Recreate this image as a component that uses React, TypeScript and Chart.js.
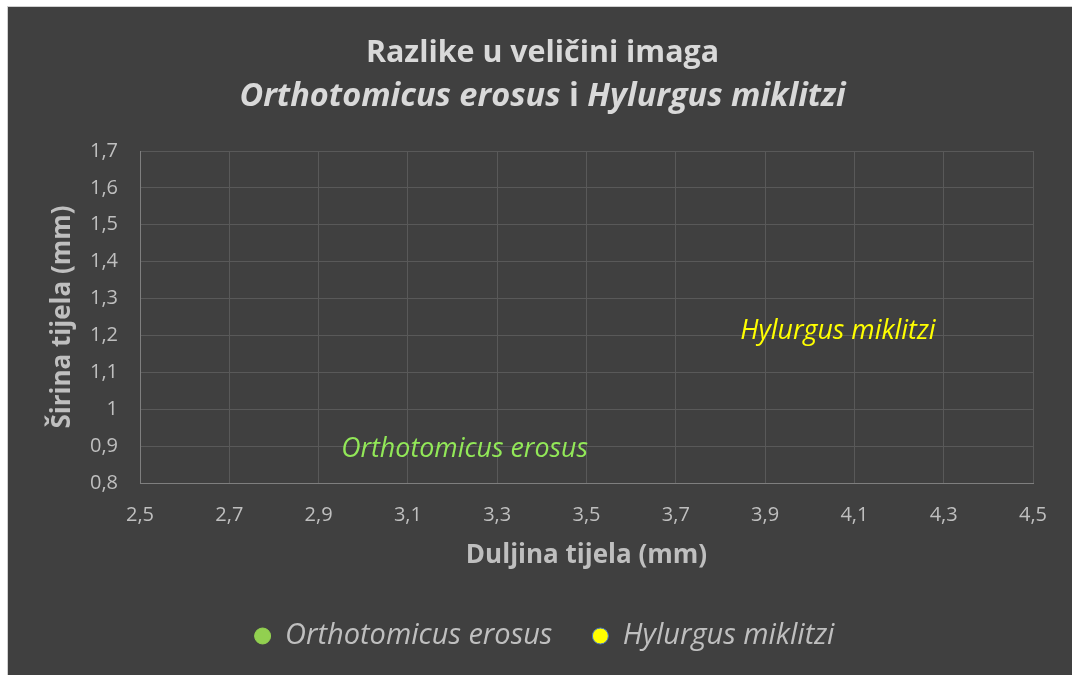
import React, { useEffect, useRef } from "react";
import { Chart, registerables } from "chart.js";

Chart.register(...registerables);

const seriesNames = ["Orthotomicus erosus", "Hylurgus miklitzi"];
const lengthValues = [3.227, 4.063];
const widthValues = [0.89, 1.212];
const xTicks = [2.5, 2.7, 2.9, 3.1, 3.3, 3.5, 3.7, 3.9, 4.1, 4.3, 4.5];
const yTicks = [0.8, 0.9, 1.0, 1.1, 1.2, 1.3, 1.4, 1.5, 1.6, 1.7];
const titleLine1 = "Razlike u veličini imaga";
const titleLine2 = ["Orthotomicus erosus", " i ", "Hylurgus miklitzi"];
const xTitle = "Duljina tijela (mm)";
const yTitle = "Širina tijela (mm)";

const FONT = "'Open Sans', sans-serif";
const markerColors = ["#92D050", "#FFFF00"];
const markerBorders = ["#92D050", "#4472C4"];
const labelColors = ["#92E858", "#FFFF00"];

const fmt = (v: number) => String(Number(v.toFixed(1))).replace(".", ",");

const titlePlugin = {
  id: "customTitle",
  afterDraw(chart: any) {
    const ctx = chart.ctx;
    ctx.save();
    ctx.fillStyle = "#d9d9d9";
    ctx.textBaseline = "alphabetic";
    const cx = 534.5;
    ctx.font = `bold 30.4px ${FONT}`;
    ctx.textAlign = "center";
    ctx.fillText(titleLine1, cx, 55);
    const fonts = [`italic bold 32.5px ${FONT}`, `bold 32.5px ${FONT}`, `italic bold 32.5px ${FONT}`];
    const widths = titleLine2.map((t, i) => {
      ctx.font = fonts[i];
      return ctx.measureText(t).width;
    });
    const total = widths.reduce((a, b) => a + b, 0);
    let x = cx - total / 2;
    ctx.textAlign = "left";
    titleLine2.forEach((t, i) => {
      ctx.font = fonts[i];
      ctx.fillText(t, x, 99);
      x += widths[i];
    });
    ctx.restore();
  },
};

const labelPlugin = {
  id: "pointLabels",
  afterLayout(chart: any) {
    if (chart.legend) {
      chart.legend.left += 24;
      chart.legend.right += 24;
    }
  },
  afterDatasetsDraw(chart: any) {
    const ctx = chart.ctx;
    ctx.save();
    ctx.font = `italic 26.8px ${FONT}`;
    ctx.textAlign = "center";
    ctx.textBaseline = "middle";
    chart.data.datasets.forEach((ds: any, i: number) => {
      const meta = chart.getDatasetMeta(i);
      meta.data.forEach((pt: any) => {
        ctx.fillStyle = labelColors[i];
        ctx.fillText(ds.label, pt.x, pt.y);
      });
    });
    ctx.restore();
  },
};

export default function App() {
  const ref = useRef<HTMLCanvasElement>(null);
  useEffect(() => {
    if (!ref.current) return;
    const chart = new Chart(ref.current, {
      type: "scatter",
      data: {
        datasets: seriesNames.map((name, i) => ({
          label: name,
          data: [{ x: lengthValues[i], y: widthValues[i] }],
          backgroundColor: markerColors[i],
          borderColor: markerBorders[i],
          borderWidth: 1,
          pointRadius: 0,
          pointHoverRadius: 0,
        })),
      },
      options: {
        animation: false,
        responsive: false,
        layout: { padding: { top: 144, right: 39, bottom: 14.5, left: 0 } },
        plugins: {
          title: { display: false },
          tooltip: { enabled: false },
          legend: {
            position: "bottom",
            labels: {
              usePointStyle: true,
              pointStyle: "circle",
              boxHeight: 11.3,
              pointStyleWidth: 16,
              padding: 40,
              color: "#bfbfbf",
              font: { family: FONT, size: 29, style: "italic" },
            },
          },
        },
        scales: {
          x: {
            type: "linear",
            min: 2.5,
            max: 4.5,
            afterBuildTicks: (s: any) => {
              s.ticks = xTicks.map((v) => ({ value: v }));
            },
            afterFit: (s: any) => {
              s.height = 98.5;
            },
            grid: { color: "#595959", drawTicks: false },
            border: { color: "#7f7f7f", width: 1 },
            ticks: {
              padding: 20,
              color: "#bfbfbf",
              font: { family: FONT, size: 20 },
              maxRotation: 0,
              callback: (v: any) => fmt(Number(v)),
            },
            title: {
              display: true,
              text: xTitle,
              color: "#bfbfbf",
              font: { family: FONT, size: 26, weight: "bold" },
              padding: { top: 0, bottom: 10 },
            },
          },
          y: {
            type: "linear",
            min: 0.8,
            max: 1.7,
            afterBuildTicks: (s: any) => {
              s.ticks = yTicks.map((v) => ({ value: v }));
            },
            afterFit: (s: any) => {
              s.width = 132;
            },
            grid: { color: "#595959", drawTicks: false },
            border: { color: "#7f7f7f", width: 1 },
            ticks: {
              padding: 22,
              color: "#bfbfbf",
              font: { family: FONT, size: 20 },
              callback: (v: any) => fmt(Number(v)),
            },
            title: {
              display: true,
              text: yTitle,
              color: "#bfbfbf",
              font: { family: FONT, size: 26, weight: "bold" },
              padding: { top: 39, bottom: 0 },
            },
          },
        },
      },
      plugins: [titlePlugin, labelPlugin],
    } as any);
    return () => chart.destroy();
  }, []);

  return (
    <div
      style={{
        position: "fixed",
        left: 7,
        top: 6,
        width: 1065,
        height: 669,
        background: "#404040",
        borderLeft: "1px solid #d0d0d0",
        borderTop: "1px solid #d0d0d0",
        boxSizing: "border-box",
      }}
    >
      <canvas ref={ref} width={1064} height={668} style={{ display: "block" }} />
    </div>
  );
}
